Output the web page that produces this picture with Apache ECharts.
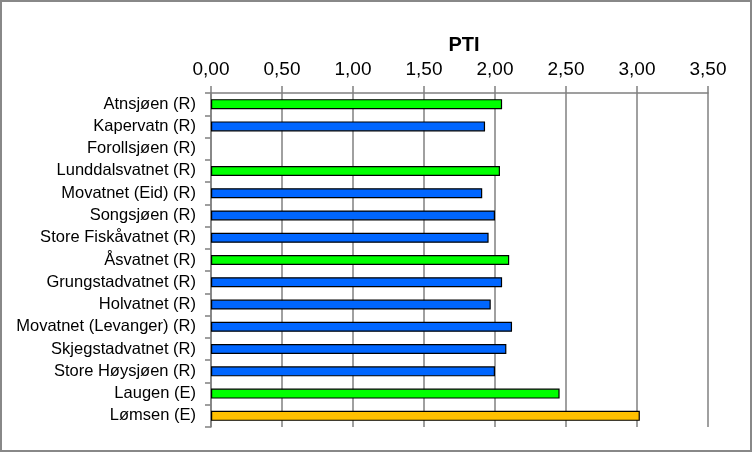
<!DOCTYPE html>
<html>
<head>
<meta charset="utf-8">
<title>PTI</title>
<script src="https://cdn.jsdelivr.net/npm/echarts@6/dist/echarts.min.js"></script>
<style>
	html, body { margin: 0; padding: 0; background: #fff; }
	#chartPti { width: 752px; height: 452px; }
</style>
</head>
<body>
<div id="chartPti"></div>
<script>
// innsjøer, ovenfra og ned
var lakeNames = [
	'Atnsjøen (R)', 'Kapervatn (R)', 'Forollsjøen (R)', 'Lunddalsvatnet (R)',
	'Movatnet (Eid) (R)', 'Songsjøen (R)', 'Store Fiskåvatnet (R)', 'Åsvatnet (R)',
	'Grungstadvatnet (R)', 'Holvatnet (R)', 'Movatnet (Levanger) (R)', 'Skjegstadvatnet (R)',
	'Store Høysjøen (R)', 'Laugen (E)', 'Lømsen (E)'
];
// PTI-verdier (Forollsjøen mangler)
var ptiValues = [2.05, 1.93, null, 2.035, 1.91, 2.00, 1.955, 2.10, 2.05, 1.97, 2.12, 2.08, 2.00, 2.455, 3.02];
// klasse for fargen på søylen
var ptiClass = ['god', 'svaert_god', 'svaert_god', 'god', 'svaert_god', 'svaert_god', 'svaert_god', 'god',
	'svaert_god', 'svaert_god', 'svaert_god', 'svaert_god', 'svaert_god', 'god', 'moderat'];
var tickLabels = ['0,00', '0,50', '1,00', '1,50', '2,00', '2,50', '3,00', '3,50'];

var classColor = {
	svaert_god: '#0066ff',
	god: '#00ff00',
	moderat: '#ffc000'
};

var barData = [];
for (var i = 0; i < ptiValues.length; i++) {
	barData.push({
		value: ptiValues[i],
		itemStyle: { color: classColor[ptiClass[i]] }
	});
}

var gray = '#808080';
var myChart = echarts.init(document.getElementById('chartPti'), null, { renderer: 'canvas' });
var options = {
	animation: false,
	backgroundColor: '#fff',
	textStyle: { fontFamily: '"Liberation Sans", Arial, sans-serif', color: '#000' },
	title: {
		text: 'PTI',
		left: 459,
		top: 30,
		textAlign: 'center',
		textStyle: { fontSize: 20, fontWeight: 'bold', color: '#000', fontFamily: '"Liberation Sans", Arial, sans-serif' }
	},
	graphic: [{
		type: 'rect',
		shape: { x: 1, y: 1, width: 750, height: 450 },
		style: { fill: null, stroke: '#888', lineWidth: 2 },
		silent: true
	}],
	grid: { left: 211, right: 44, top: 93, bottom: 25 },
	xAxis: {
		type: 'value',
		position: 'top',
		min: 0,
		max: 3.5,
		interval: 0.5,
		axisLine: { show: true, lineStyle: { color: gray, width: 1.5 } },
		axisTick: { show: true, length: 7, lineStyle: { color: gray, width: 1.5 } },
		splitLine: { show: true, lineStyle: { color: gray, width: 1.5 } },
		axisLabel: {
			margin: 14,
			fontSize: 19,
			color: '#000',
			formatter: function (v) {
				return tickLabels[Math.round(v / 0.5)];
			}
		}
	},
	yAxis: {
		type: 'category',
		data: lakeNames,
		inverse: true,
		axisLine: { show: true, lineStyle: { color: gray, width: 1.5 } },
		axisTick: { show: true, length: 6, lineStyle: { color: gray, width: 1.5 } },
		splitLine: { show: false },
		axisLabel: { margin: 15, fontSize: 16.5, color: '#000' }
	},
	series: [{
		type: 'bar',
		data: barData,
		barWidth: 10,
		itemStyle: { borderColor: '#000', borderWidth: 1.2 }
	}]
};
myChart.setOption(options);
</script>
</body>
</html>
